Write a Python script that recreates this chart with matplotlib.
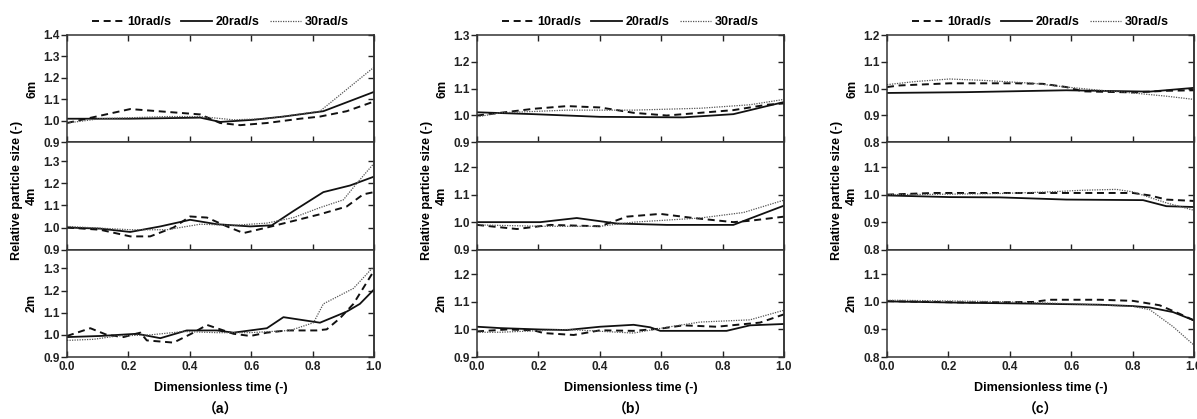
import matplotlib
matplotlib.use("Agg")
from matplotlib import pyplot as plt
from matplotlib.lines import Line2D
from matplotlib.ticker import FormatStrFormatter

plt.rcParams['font.family'] = ['Liberation Sans', 'Noto Sans CJK SC', 'DejaVu Sans']
plt.rcParams['font.weight'] = 'bold'

# ---- panel (a) ----
a6_10_x = [0, 0.206, 0.434, 0.499, 0.564, 0.651, 0.759, 0.824, 0.911, 1.0]
a6_10_y = [0.99, 1.055, 1.03, 0.99, 0.98, 0.99, 1.01, 1.02, 1.045, 1.09]
a6_20_x = [0, 0.206, 0.434, 0.499, 0.607, 0.705, 0.835, 1.0]
a6_20_y = [1.01, 1.01, 1.015, 0.995, 1.005, 1.02, 1.045, 1.135]
a6_30_x = [0, 0.108, 0.325, 0.434, 0.542, 0.651, 0.824, 1.0]
a6_30_y = [0.99, 1.01, 1.02, 1.02, 1.005, 1.01, 1.045, 1.25]

a4_10_x = [0, 0.108, 0.206, 0.271, 0.347, 0.401, 0.456, 0.521, 0.575, 0.651, 0.738, 0.824, 0.911, 0.965, 1.0]
a4_10_y = [1.0, 0.99, 0.96, 0.96, 1.0, 1.05, 1.045, 1.005, 0.975, 1.0, 1.03, 1.06, 1.095, 1.15, 1.16]
a4_20_x = [0, 0.108, 0.206, 0.304, 0.401, 0.488, 0.597, 0.667, 0.738, 0.835, 0.922, 1.0]
a4_20_y = [1.0, 0.995, 0.98, 1.005, 1.035, 1.015, 1.005, 1.01, 1.075, 1.16, 1.19, 1.23]
a4_30_x = [0, 0.206, 0.325, 0.434, 0.542, 0.651, 0.738, 0.824, 0.9, 0.944, 1.0]
a4_30_y = [1.005, 0.99, 0.99, 1.015, 1.01, 1.02, 1.045, 1.09, 1.125, 1.2, 1.29]

a2_10_x = [0, 0.076, 0.13, 0.184, 0.239, 0.26, 0.347, 0.412, 0.456, 0.542, 0.597, 0.651, 0.716, 0.813, 0.846, 0.889, 0.933, 1.0]
a2_10_y = [0.995, 1.03, 1.0, 0.99, 1.01, 0.975, 0.965, 1.01, 1.045, 1.005, 0.995, 1.01, 1.02, 1.02, 1.025, 1.075, 1.14, 1.29]
a2_20_x = [0, 0.108, 0.228, 0.304, 0.39, 0.488, 0.542, 0.651, 0.705, 0.824, 0.911, 0.954, 1.0]
a2_20_y = [0.99, 0.995, 1.005, 0.985, 1.02, 1.02, 1.01, 1.03, 1.08, 1.055, 1.105, 1.14, 1.205]
a2_30_x = [0, 0.087, 0.163, 0.271, 0.38, 0.488, 0.597, 0.727, 0.803, 0.835, 0.933, 1.0]
a2_30_y = [0.975, 0.98, 0.995, 1.0, 1.015, 1.01, 1.01, 1.02, 1.055, 1.14, 1.21, 1.31]

# ---- panel (b) ----
b6_10_x = [0, 0.076, 0.184, 0.293, 0.401, 0.456, 0.51, 0.618, 0.727, 0.835, 0.944, 1.0]
b6_10_y = [1.0, 1.01, 1.025, 1.035, 1.03, 1.02, 1.01, 1.0, 1.01, 1.02, 1.04, 1.045]
b6_20_x = [0, 0.184, 0.401, 0.672, 0.835, 0.944, 1.0]
b6_20_y = [1.012, 1.005, 0.995, 0.993, 1.005, 1.035, 1.05]
b6_30_x = [0, 0.076, 0.293, 0.51, 0.727, 0.889, 1.0]
b6_30_y = [0.995, 1.01, 1.02, 1.02, 1.027, 1.04, 1.06]

b4_10_x = [0, 0.13, 0.239, 0.401, 0.488, 0.597, 0.705, 0.835, 0.889, 1.0]
b4_10_y = [0.99, 0.975, 0.99, 0.985, 1.02, 1.03, 1.015, 1.0, 1.005, 1.02]
b4_20_x = [0, 0.206, 0.325, 0.456, 0.618, 0.835, 1.0]
b4_20_y = [1.0, 1.0, 1.015, 0.995, 0.99, 0.99, 1.06]
b4_30_x = [0, 0.206, 0.401, 0.51, 0.727, 0.868, 1.0]
b4_30_y = [0.99, 0.985, 0.985, 1.0, 1.015, 1.035, 1.08]

b2_10_x = [0, 0.098, 0.184, 0.217, 0.315, 0.401, 0.51, 0.597, 0.672, 0.781, 0.922, 1.0]
b2_10_y = [0.993, 1.0, 0.997, 0.987, 0.98, 0.997, 0.995, 1.003, 1.015, 1.01, 1.025, 1.055]
b2_20_x = [0, 0.076, 0.206, 0.293, 0.401, 0.51, 0.564, 0.597, 0.727, 0.813, 0.889, 1.0]
b2_20_y = [1.01, 1.005, 1.0, 0.998, 1.01, 1.017, 1.008, 0.995, 0.995, 0.995, 1.015, 1.02]
b2_30_x = [0, 0.076, 0.293, 0.51, 0.618, 0.727, 0.889, 1.0]
b2_30_y = [0.99, 0.99, 1.0, 0.987, 1.008, 1.027, 1.035, 1.07]

# ---- panel (c) ----
c6_10_x = [0, 0.041, 0.204, 0.421, 0.508, 0.584, 0.638, 0.801, 0.91, 1.0]
c6_10_y = [1.006, 1.012, 1.02, 1.02, 1.018, 1.006, 0.99, 0.986, 0.992, 0.994]
c6_20_x = [0, 0.258, 0.584, 0.801, 0.856, 1.0]
c6_20_y = [0.984, 0.987, 0.994, 0.99, 0.989, 1.003]
c6_30_x = [0, 0.096, 0.204, 0.313, 0.476, 0.584, 0.693, 0.801, 0.91, 1.0]
c6_30_y = [1.015, 1.027, 1.036, 1.031, 1.02, 1.006, 0.994, 0.984, 0.972, 0.96]

c4_10_x = [0, 0.15, 0.367, 0.584, 0.801, 0.856, 0.91, 1.0]
c4_10_y = [1.0, 1.006, 1.006, 1.006, 1.006, 0.997, 0.982, 0.977]
c4_20_x = [0, 0.204, 0.367, 0.584, 0.834, 0.91, 1.0]
c4_20_y = [0.997, 0.991, 0.99, 0.982, 0.98, 0.958, 0.955]
c4_30_x = [0, 0.15, 0.367, 0.53, 0.638, 0.747, 0.801, 0.91, 1.0]
c4_30_y = [1.0, 1.001, 1.004, 1.01, 1.016, 1.019, 1.01, 0.97, 0.943]

c2_10_x = [0, 0.258, 0.476, 0.53, 0.693, 0.801, 0.888, 0.953, 1.0]
c2_10_y = [1.003, 0.998, 1.0, 1.008, 1.008, 1.004, 0.988, 0.957, 0.933]
c2_20_x = [0, 0.258, 0.476, 0.693, 0.801, 0.856, 0.932, 1.0]
c2_20_y = [1.002, 0.997, 0.994, 0.99, 0.985, 0.98, 0.963, 0.933]
c2_30_x = [0, 0.041, 0.367, 0.584, 0.801, 0.856, 0.932, 1.0]
c2_30_y = [1.006, 1.006, 1.001, 0.994, 0.984, 0.972, 0.91, 0.843]

heights = ['6m', '4m', '2m']
speeds = ['10rad/s', '20rad/s', '30rad/s']
captions = ['（a）', '（b）', '（c）']

panels = [
    [[(a6_10_x, a6_10_y), (a6_20_x, a6_20_y), (a6_30_x, a6_30_y)],
     [(a4_10_x, a4_10_y), (a4_20_x, a4_20_y), (a4_30_x, a4_30_y)],
     [(a2_10_x, a2_10_y), (a2_20_x, a2_20_y), (a2_30_x, a2_30_y)]],
    [[(b6_10_x, b6_10_y), (b6_20_x, b6_20_y), (b6_30_x, b6_30_y)],
     [(b4_10_x, b4_10_y), (b4_20_x, b4_20_y), (b4_30_x, b4_30_y)],
     [(b2_10_x, b2_10_y), (b2_20_x, b2_20_y), (b2_30_x, b2_30_y)]],
    [[(c6_10_x, c6_10_y), (c6_20_x, c6_20_y), (c6_30_x, c6_30_y)],
     [(c4_10_x, c4_10_y), (c4_20_x, c4_20_y), (c4_30_x, c4_30_y)],
     [(c2_10_x, c2_10_y), (c2_20_x, c2_20_y), (c2_30_x, c2_30_y)]],
]
# y limits: top sub-plot, lower sub-plots
ylims = [((0.9, 1.4), (0.9, 1.385)),
         ((0.9, 1.3), (0.9, 1.29)),
         ((0.8, 1.2), (0.8, 1.19))]
yticks = [[0.9, 1.0, 1.1, 1.2, 1.3, 1.4],
          [0.9, 1.0, 1.1, 1.2, 1.3],
          [0.8, 0.9, 1.0, 1.1, 1.2]]

styles = [dict(color='#111111', lw=1.4, ls=(0, (3.6, 2.4))),
          dict(color='#111111', lw=1.3, ls='-'),
          dict(color='#555555', lw=0.9, ls=(0, (1, 1)))]

W, H = 1197, 419
fig = plt.figure(figsize=(W / 100, H / 100), dpi=100)

lefts = [67, 477, 887]
pw = 307
top, bottom = 35, 357
sh = (bottom - top) / 3
tick_fs = 8.5

for p in range(3):
    l = lefts[p]
    for r in range(3):
        y0 = top + sh * (r + 1)
        ax = fig.add_axes([l / W, 1 - y0 / H, pw / W, sh / H])
        for k in range(3):
            xs, ys = panels[p][r][k]
            ax.plot(xs, ys, **styles[k])
        ax.set_xlim(0, 1)
        ax.set_ylim(*(ylims[p][0] if r == 0 else ylims[p][1]))
        ax.set_yticks([t for t in yticks[p] if t <= ax.get_ylim()[1] + 1e-9])
        ax.set_xticks([0, 0.2, 0.4, 0.6, 0.8, 1.0])
        ax.yaxis.set_major_formatter(FormatStrFormatter('%.1f'))
        ax.xaxis.set_major_formatter(FormatStrFormatter('%.1f'))
        ax.tick_params(axis='x', direction='in', length=4, width=1, labelsize=tick_fs,
                       top=(r == 0), colors='#222222', pad=3, labelbottom=(r == 2))
        ax.tick_params(axis='y', direction='out', length=4, width=1, labelsize=tick_fs,
                       colors='#222222', pad=1)
        # inward ticks on the right side
        sec = ax.secondary_yaxis('right')
        sec.set_yticks(ax.get_yticks())
        sec.tick_params(direction='in', length=4, width=1, labelright=False, colors='#222222')
        sec.spines['right'].set_linewidth(1.1)
        sec.spines['right'].set_color('#333333')
        for s in ax.spines.values():
            s.set_linewidth(1.1)
            s.set_color('#333333')
        for lab in ax.get_xticklabels() + ax.get_yticklabels():
            lab.set_fontweight('bold')
        fig.text((l - 35) / W, 1 - (top + sh * (r + 0.5)) / H, heights[r],
                 rotation=90, ha='center', va='center', fontsize=9, fontweight='bold')

    cx = (l + pw / 2) / W
    fig.text((l - 50) / W, 1 - 190 / H, 'Relative particle size (-)', rotation=90,
             ha='center', va='center', fontsize=9, fontweight='bold')
    fig.text(cx, 1 - 388 / H, 'Dimensionless time (-)', ha='center', va='center',
             fontsize=9, fontweight='bold')
    fig.text(cx, 1 - 410 / H, captions[p], ha='center', va='center',
             fontsize=10, fontweight='bold')
    handles = [Line2D([], [], **styles[k]) for k in range(3)]
    fig.legend(handles, speeds, loc='center', bbox_to_anchor=(cx, 1 - 22 / H),
               ncol=3, frameon=False, handlelength=2.5,
               handletextpad=0.3, columnspacing=0.8, prop=dict(weight='bold', size=9))

fig.savefig('out.png', dpi=100)
